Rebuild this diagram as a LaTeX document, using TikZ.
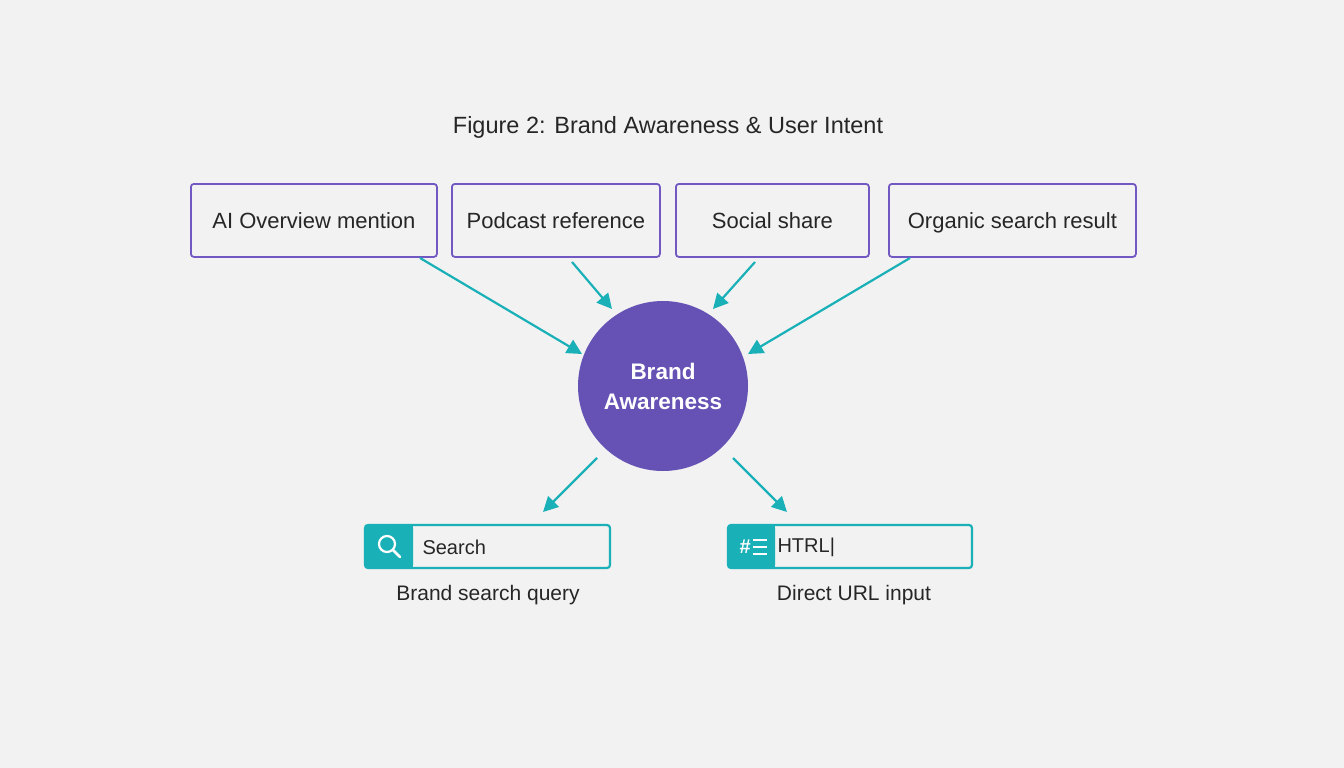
\documentclass[tikz,border=0pt]{standalone}
\usepackage{fontspec}
\setmainfont{Liberation Sans}
\usetikzlibrary{arrows.meta}
\definecolor{brandteal}{HTML}{1AB0B8}
\definecolor{brandpurple}{HTML}{6651B4}
\definecolor{boxline}{HTML}{7258C2}
\definecolor{bgray}{HTML}{F2F2F2}
\tikzset{
  source/.style={draw=boxline, line width=1.8pt, rounded corners=3pt, fill=bgray, anchor=north west, font=\fontsize{22}{26}\selectfont, text=black!85, text height=17pt, text depth=1pt},
  flow/.style={-{Triangle[length=15pt,width=15pt]}, brandteal, line width=2.2pt},
  inputbox/.style={draw=brandteal, line width=2.2pt, rounded corners=3pt, fill=bgray},
}
\begin{document}
\begin{tikzpicture}[x=1pt,y=-1pt]
        \useasboundingbox[fill=bgray] (0,0) rectangle (1344,768);
        % Title
        \node[font=\fontsize{23.5}{28}\selectfont, text=black!85] (title) at (668,127) {Figure 2: Brand Awareness \& User Intent};
        % Sources
        \node[source, minimum width=246pt, minimum height=73pt] (ai) at (190,183) {AI Overview mention};
        \node[source, minimum width=208pt, minimum height=73pt] (podcast) at (451,183) {Podcast reference};
        \node[source, minimum width=193pt, minimum height=73pt] (social) at (675,183) {Social share};
        \node[source, minimum width=247pt, minimum height=73pt] (organic) at (888,183) {Organic search result};
        % Centre
        \node[circle, fill=brandpurple, minimum size=170pt, text=white, font=\bfseries\fontsize{22.5}{30}\selectfont, align=center] (brand) at (663,386) {Brand\\Awareness};
        % Arrow ends
        \coordinate (ai-s) at (420,258);
        \coordinate (ai-e) at (582,354);
        \coordinate (pod-s) at (572,262);
        \coordinate (pod-e) at (612,309);
        \coordinate (soc-s) at (755,262);
        \coordinate (soc-e) at (713,309);
        \coordinate (org-s) at (910,258);
        \coordinate (org-e) at (748,354);
        \coordinate (q-s) at (597,458);
        \coordinate (q-e) at (543,512);
        \coordinate (u-s) at (733,458);
        \coordinate (u-e) at (787,512);
        \draw[flow] (ai-s) -- (ai-e);
        \draw[flow] (pod-s) -- (pod-e);
        \draw[flow] (soc-s) -- (soc-e);
        \draw[flow] (org-s) -- (org-e);
        \draw[flow] (q-s) -- (q-e);
        \draw[flow] (u-s) -- (u-e);
        % Search box
        \draw[inputbox] (365,525) rectangle (610,568);
        \fill[brandteal, rounded corners=3pt] (365,525) rectangle (413,568);
        \fill[brandteal] (400,525) rectangle (413,568);
        \draw[white, line width=2.2pt] (387,544) circle (8pt);
        \draw[white, line width=2.8pt, line cap=round] (393,550) -- (400,557);
        \node[anchor=west, font=\fontsize{20}{24}\selectfont, text=black!85] (search) at (419,547) {Search};
        \node[font=\fontsize{21}{25}\selectfont, text=black!85] (query) at (488,595) {Brand search query};
        % URL box
        \draw[inputbox] (728,525) rectangle (972,568);
        \fill[brandteal, rounded corners=3pt] (728,525) rectangle (775,568);
        \fill[brandteal] (762,525) rectangle (775,568);
        \node[text=white, font=\bfseries\fontsize{20}{24}\selectfont, anchor=east, inner sep=0pt] (hash) at (751,547) {\#};
        \draw[white, line width=2pt] (753,540) -- (767,540) (753,547) -- (767,547) (753,554) -- (767,554);
        \node[anchor=west, font=\fontsize{20}{24}\selectfont, text=black!85] (url) at (774,547) {HTRL|};
        \node[font=\fontsize{21}{25}\selectfont, text=black!85] (direct) at (854,595) {Direct URL input};
      \end{tikzpicture}
\end{document}
